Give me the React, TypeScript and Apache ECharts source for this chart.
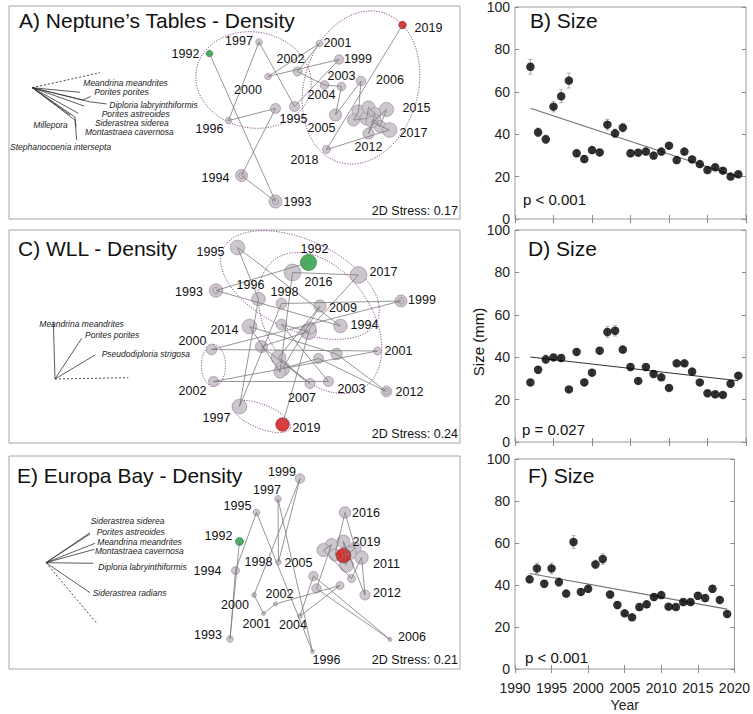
import React, { useEffect, useRef } from "react";
import * as echarts from "echarts";

// ---------- shared ----------
const years = [1992, 1993, 1994, 1995, 1996, 1997, 1998, 1999, 2000, 2001, 2002, 2003, 2004, 2005, 2006, 2007, 2008, 2009, 2010, 2011, 2012, 2013, 2014, 2015, 2016, 2017, 2018, 2019];

// ---------- size panels (B, D, F) ----------
const sizeB = [71.8, 40.9, 37.6, 53, 57.9, 65.3, 31, 28.3, 32.5, 31.4, 44.5, 40.4, 43.1, 31, 31.3, 31.8, 29.9, 31.8, 34.6, 27.8, 31.8, 28.1, 25.9, 23.1, 24.4, 22.8, 20, 21.1];
const errB = [3.5, 2, 2, 2.5, 3, 3.5, 1.5, 1.5, 1.5, 1.5, 2.5, 2, 2, 1.5, 1.5, 1.5, 1.5, 1.5, 1.5, 1.5, 1.5, 1.5, 1.5, 1, 1, 1, 1, 1];
const trendB = [[1992, 52.2], [2019, 19.8]];
const sizeD = [28.1, 34.1, 39, 39.9, 39.6, 24.8, 42.5, 28.1, 32.7, 43.1, 51.9, 52.5, 43.6, 35.4, 28.8, 35.4, 32.1, 30.5, 25.5, 37.1, 37.1, 33.2, 28.1, 23, 22.5, 22.2, 27.5, 31.3];
const errD = [1.5, 1.5, 2, 1.5, 1.5, 1, 1.5, 1.5, 1.5, 1.5, 2.5, 2.5, 1.5, 1.5, 1, 1, 1, 1, 1, 1, 1, 1, 1, 1, 1, 1, 1, 1];
const trendD = [[1992, 40.1], [2019, 28.9]];
const sizeF = [42.7, 47.9, 40.6, 47.9, 41.4, 35.9, 60.5, 36.7, 38.2, 49.8, 52.4, 35.5, 30.5, 26.5, 24.6, 29.5, 30.8, 34.3, 35.2, 29.7, 29.5, 31.9, 31.9, 34.9, 33.8, 38.2, 32.9, 26.2];
const errF = [1.5, 2.5, 1.5, 2.5, 2, 1.5, 3, 1.5, 1.5, 2, 2.5, 1.5, 1.5, 1, 1, 1.5, 1.5, 1.5, 1.5, 1, 1, 1, 1, 1.5, 1.5, 1.5, 1.5, 1];
const trendF = [[1992, 45.5], [2019, 28.5]];
const pTexts = ["p < 0.001", "p = 0.027", "p < 0.001"];
const sizeTitles = ["B) Size", "D) Size", "F) Size"];
const xTicks = { min: 1990, max: 2020, step: 5 };
const yTicks = { min: 0, max: 100, step: 20 };

// ---------- nMDS panels (A, C, E) ----------
const nmdsA = [[-0.25, 0.59], [0.41, -0.89], [0.07, -0.63], [0.41, 0.04], [-0.06, -0.08], [0.245, 0.705], [0.6, 0.06], [1.045, 0.53], [0.335, 0.36], [0.85, 0.69], [0.63, 0.41], [0.9, 0.275], [1.07, 0.26], [1.01, -0.025], [1.265, 0.315], [1.24, 0.01], [1.19, -0.075], [1.32, -0.06], [1.34, 0.05], [1.405, -0.01], [1.34, -0.21], [1.405, -0.075], [1.455, -0.14], [1.52, 0.03], [1.375, -0.095], [1.55, -0.175], [0.92, -0.37], [1.68, 0.875]];
const densityA = [3.3, 6.5, 6, 5, 3.3, 3.3, 5, 4.7, 3.3, 3.3, 4.5, 4.3, 4.3, 6, 4.7, 6.5, 6, 6.5, 6.5, 6, 5.5, 6, 6, 7, 6, 7.3, 4, 3.7];
const ringYearsA = [1993, 1994];
const ellipsesA = [[0.19, 0.325, 0.58, 0.48, -10], [1.265, 0.25, 0.78, 0.57, 74]];
const vecOriginA = [-2.022, 0.248];
const vecEndsA = [[-1.545, 0.202], [-1.518, 0.125], [-1.452, 0.108], [-1.505, 0.065], [-1.562, -0.008], [-1.595, -0.045], [-1.645, -0.025], [-1.595, -0.075]];
const vecLeadersA = [[[-1.452, 0.108], [-1.278, 0.085]], [[-1.595, -0.045], [-1.585, -0.145]], [[-1.595, -0.075], [-1.578, -0.275]], [[-1.518, 0.125], [-1.44, 0.16]]];
const vecDashA = [-1.345, 0.398];
const speciesA = ["Meandrina meandrites", "Porites porites", "Diploria labryinthiformis", "Porites astreoides", "Siderastrea siderea", "Montastraea cavernosa", "Millepora", "Stephanocoenia intersepta"];
const speciesPosA = [[-1.512, 0.298], [-1.402, 0.208], [-1.252, 0.075], [-1.328, -0.015], [-1.395, -0.105], [-1.495, -0.198], [-2.012, -0.125], [-2.245, -0.348]];
const labelOffA: Record<number, number[]> = { 1992: [-24, 0], 1993: [22, 0], 1994: [-26, 2], 1995: [18, 10], 1996: [-19, 8], 1997: [-20, -1], 1999: [19, -1], 2000: [-20, 13], 2001: [18, -1], 2002: [-7, -13], 2003: [17, -9], 2004: [-20, 8], 2005: [-14, 13], 2006: [29, -1], 2012: [0, 13], 2015: [30, -2], 2017: [24, 3], 2018: [-22, 10], 2019: [26, 3] };

const nmdsC = [[0.74, 0.74], [-0.185, 0.46], [1.06, 0.105], [0.03, 0.89], [0.24, 0.375], [0.05, -0.7], [0.47, 0.33], [1.665, 0.355], [-0.23, -0.13], [1.43, -0.145], [-0.21, -0.45], [0.94, -0.45], [0.47, 0.12], [0.74, 0.05], [0.27, -0.1], [0.755, -0.47], [0.44, -0.21], [0.855, 0.305], [0.48, -0.32], [0.84, -0.22], [1.52, -0.55], [1.02, -0.175], [0.15, 0.1], [0.455, -0.355], [0.58, 0.64], [1.24, 0.615], [0.755, 0.085], [0.48, -0.88]];
const densityC = [8, 6.7, 6.7, 7.3, 6.7, 7.3, 5.3, 6, 5.3, 4, 5, 5, 5.3, 8, 6, 5, 7.3, 6, 7.3, 5, 5.3, 5.7, 7.3, 6, 8.3, 8.3, 6, 6.7];
const ringYearsC = [1993, 1999, 2012];
const ellipsesC = [[0.655, 0.515, 0.85, 0.45, -25], [0.855, 0.135, 0.78, 0.52, -55], [-0.21, -0.29, 0.21, 0.12, 90], [0.27, -0.8, 0.31, 0.12, -22]];
const vecOriginC = [-1.795, -0.425];
const vecEndsC = [[-1.812, 0.148], [-1.528, -0.018], [-1.395, -0.185]];
const vecLeadersC: number[][][] = [];
const vecDashC = [-1.062, -0.412];
const speciesC = ["Meandrina meandrites", "Porites porites", "Pseudodiploria strigosa"];
const speciesPosC = [[-1.952, 0.125], [-1.495, 0.015], [-1.328, -0.175]];
const labelOffC: Record<number, number[]> = { 1992: [6, -14], 1993: [-27, 1], 1994: [24, -1], 1995: [-27, 4], 1996: [-8, -14], 1997: [-23, 11], 1998: [3, -12], 1999: [21, -1], 2000: [-19, -9], 2001: [21, 0], 2002: [-21, 9], 2003: [23, 7], 2007: [-8, 14], 2009: [23, 2], 2012: [23, 0], 2014: [-25, 3], 2016: [26, 9], 2017: [25, -3], 2019: [24, 3] };

const nmdsE = [[0.05, 0.21], [-0.045, -0.765], [0.01, -0.08], [0.22, 0.5], [0.78, -0.89], [0.435, 0.635], [0.44, 0.005], [0.655, 0.84], [0.195, -0.325], [0.29, -0.51], [0.41, -0.415], [1.055, -0.23], [0.655, -0.535], [0.79, -0.135], [1.555, -0.77], [0.82, -0.26], [0.97, 0.18], [0.89, 0.125], [1.17, -0.16], [1.27, 0.05], [1.305, -0.325], [1.09, 0.21], [1.12, -0.025], [1.005, 0.075], [1.105, 0.5], [1.205, 0.145], [1.155, 0.095], [1.09, 0.07]];
const densityE = [4, 3.3, 4, 3.3, 2, 3.3, 2.7, 4.7, 2.3, 2, 2, 4, 2.3, 4.7, 2, 4.7, 6, 6.5, 4, 6.7, 5, 6.5, 7, 6, 5.7, 6, 6.5, 7.3];
const ringYearsE: number[] = [];
const ellipsesE: number[][] = [];
const vecOriginE = [-1.885, -0.002];
const vecEndsE = [[-1.445, 0.298], [-1.445, 0.285], [-1.395, 0.192], [-1.402, 0.132], [-1.412, -0.008], [-1.445, -0.302]];
const vecLeadersE: number[][][] = [];
const vecDashE = [-1.378, -0.608];
const speciesE = ["Siderastrea siderea", "Porites astreoides", "Meandrina meandrites", "Montastraea cavernosa", "Diploria labryinthiformis", "Siderastrea radians"];
const speciesPosE = [[-1.438, 0.415], [-1.378, 0.308], [-1.372, 0.208], [-1.395, 0.118], [-1.362, -0.042], [-1.418, -0.302]];
const labelOffE: Record<number, number[]> = { 1992: [-21, -6], 1993: [-22, -4], 1994: [-28, 0], 1995: [-19, -7], 1996: [14, 8], 1997: [-11, -9], 1998: [-20, 0], 1999: [-18, -7], 2000: [-19, 10], 2001: [-7, 10], 2002: [4, -10], 2004: [-7, 9], 2005: [-15, -13], 2006: [22, -3], 2011: [25, 6], 2012: [22, -2], 2016: [21, 0], 2019: [23, -14] };

const nmdsTitles = ["A) Neptune\u2019s Tables - Density", "C) WLL - Density", "E) Europa Bay - Density"];
const stressTexts = ["2D Stress: 0.17", "2D Stress: 0.24", "2D Stress: 0.21"];

const FONT = '"Liberation Sans", Arial, Helvetica, sans-serif';

function buildOption() {
  const leftBoxes = [
    { left: 9, top: 6, width: 451, height: 213 },
    { left: 9, top: 230, width: 451, height: 213 },
    { left: 9, top: 456, width: 451, height: 213 },
  ];
  const rightBoxes = [
    { left: 515, top: 7, width: 231, height: 212 },
    { left: 515, top: 230, width: 231, height: 212 },
    { left: 515, top: 459, width: 231, height: 210 },
  ];
  const grid: any[] = [];
  leftBoxes.forEach((b) => grid.push({ ...b, show: true, borderColor: "#a6a6a6", borderWidth: 1, backgroundColor: "#fff" }));
  rightBoxes.forEach((b) => grid.push({ ...b, show: true, borderColor: "#9a9a9a", borderWidth: 1, backgroundColor: "#fff" }));

  const xAxis: any[] = [];
  const yAxis: any[] = [];
  for (let g = 0; g < 3; g++) {
    xAxis.push({ type: "value", gridIndex: g, min: -2.255, max: 2.255, show: false });
    yAxis.push({ type: "value", gridIndex: g, min: -1.065, max: 1.065, show: false });
  }
  const tick = { show: true, inside: true, length: 4, lineStyle: { color: "#8a8a8a", width: 1 } };
  for (let k = 0; k < 3; k++) {
    const g = 3 + k;
    xAxis.push({
      type: "value", gridIndex: g, min: xTicks.min, max: xTicks.max, interval: xTicks.step,
      axisLine: { show: false }, splitLine: { show: false }, axisTick: tick,
      axisLabel: { show: k === 2, fontSize: 14, color: "#222", margin: 12, fontFamily: FONT, formatter: (v: number) => String(v) },
      name: k === 2 ? "Year" : "", nameLocation: "middle", nameGap: 29,
      nameTextStyle: { fontSize: 14, color: "#222", fontFamily: FONT },
    });
    yAxis.push({
      type: "value", gridIndex: g, min: yTicks.min, max: yTicks.max, interval: yTicks.step,
      axisLine: { show: false }, splitLine: { show: false }, axisTick: tick,
      axisLabel: { fontSize: 14, color: "#222", margin: 5, fontFamily: FONT },
    });
  }
  for (let k = 0; k < 3; k++) {
    const g = 3 + k;
    xAxis.push({
      type: "value", gridIndex: g, position: "top", min: xTicks.min, max: xTicks.max, interval: xTicks.step,
      axisLine: { show: false }, splitLine: { show: false }, axisTick: tick, axisLabel: { show: false },
    });
    yAxis.push({
      type: "value", gridIndex: g, position: "right", min: yTicks.min, max: yTicks.max, interval: yTicks.step,
      axisLine: { show: false }, splitLine: { show: false }, axisTick: tick, axisLabel: { show: false },
    });
  }

  const series: any[] = [];

  const ellipseRender = (params: any, api: any) => {
    const cx = api.value(0), cy = api.value(1), a = api.value(2), b = api.value(3);
    const th = (api.value(4) * Math.PI) / 180;
    const pts: number[][] = [];
    for (let i = 0; i <= 90; i++) {
      const t = (i / 90) * Math.PI * 2;
      const lx = a * Math.cos(t), ly = b * Math.sin(t);
      pts.push(api.coord([cx + lx * Math.cos(th) - ly * Math.sin(th), cy + lx * Math.sin(th) + ly * Math.cos(th)]));
    }
    return { type: "polyline", shape: { points: pts }, style: { stroke: "#8c4f8e", lineWidth: 1, lineDash: [1.2, 1.4], fill: null } };
  };

  const panels = [
    { nmds: nmdsA, dens: densityA, rings: ringYearsA, ell: ellipsesA, o: vecOriginA, ends: vecEndsA, leaders: vecLeadersA, dash: vecDashA, sp: speciesA, spPos: speciesPosA, off: labelOffA },
    { nmds: nmdsC, dens: densityC, rings: ringYearsC, ell: ellipsesC, o: vecOriginC, ends: vecEndsC, leaders: vecLeadersC, dash: vecDashC, sp: speciesC, spPos: speciesPosC, off: labelOffC },
    { nmds: nmdsE, dens: densityE, rings: ringYearsE, ell: ellipsesE, o: vecOriginE, ends: vecEndsE, leaders: vecLeadersE, dash: vecDashE, sp: speciesE, spPos: speciesPosE, off: labelOffE },
  ];

  panels.forEach((p, g) => {
    const ax = { xAxisIndex: g, yAxisIndex: g };
    const last = years.length - 1;
    if (p.ell.length) {
      series.push({ type: "custom", ...ax, data: p.ell, renderItem: ellipseRender, encode: { x: 0, y: 1 }, z: 1, silent: true, clip: false });
    }
    series.push({
      type: "scatter", ...ax, z: 2, silent: true,
      data: years.map((yr, i) => [p.nmds[i][0], p.nmds[i][1], p.dens[i]]).filter((_, i) => i !== 0 && i !== last),
      symbolSize: (v: number[]) => v[2] * 2,
      itemStyle: { color: "#c8c4c9", borderColor: "#a68aa8", borderWidth: 0.8, opacity: 0.95 },
    });
    if (p.rings.length) {
      series.push({
        type: "scatter", ...ax, z: 2, silent: true,
        data: p.rings.map((yr) => { const i = years.indexOf(yr); return [p.nmds[i][0], p.nmds[i][1]]; }),
        symbolSize: 6,
        itemStyle: { color: "rgba(0,0,0,0)", borderColor: "#8d6f90", borderWidth: 0.8 },
      });
    }
    series.push({
      type: "scatter", ...ax, z: 3, silent: true,
      data: [
        { value: [p.nmds[0][0], p.nmds[0][1], p.dens[0]], itemStyle: { color: "#1e9a3c", borderColor: "#2a7a3a" } },
        { value: [p.nmds[last][0], p.nmds[last][1], p.dens[last]], itemStyle: { color: "#d40a0a", borderColor: "#8a1a1a" } },
      ],
      symbolSize: (v: number[]) => v[2] * 2,
      itemStyle: { borderWidth: 0.8 },
    });
    series.push({
      type: "line", ...ax, z: 4, silent: true, symbol: "none",
      data: p.nmds.map((c) => [c[0], c[1]]),
      lineStyle: { color: "#7b7b7b", width: 0.8 },
    });
    // year labels (custom text)
    series.push({
      type: "custom", ...ax, z: 6, silent: true, clip: false,
      data: years
        .map((yr, i) => ({ yr, i }))
        .filter((d) => p.off[d.yr])
        .map((d) => [p.nmds[d.i][0], p.nmds[d.i][1], p.off[d.yr][0], p.off[d.yr][1], d.yr]),
      encode: { x: 0, y: 1 },
      renderItem: (params: any, api: any) => {
        const c = api.coord([api.value(0), api.value(1)]);
        return {
          type: "text", x: c[0] + api.value(2), y: c[1] + api.value(3),
          style: { text: String(api.value(4)), fill: "#111", font: `12.5px ${FONT}`, textAlign: "center", textVerticalAlign: "middle" },
        };
      },
    });
    series.push({
      type: "lines", coordinateSystem: "cartesian2d", ...ax, z: 3, silent: true,
      data: p.ends.map((e) => ({ coords: [p.o, e] })).concat(p.leaders.map((l) => ({ coords: l }))),
      lineStyle: { color: "#333", width: 0.8, opacity: 1, curveness: 0 },
    });
    series.push({
      type: "lines", coordinateSystem: "cartesian2d", ...ax, z: 3, silent: true,
      data: [{ coords: [p.o, p.dash] }],
      lineStyle: { color: "#333", width: 0.9, opacity: 1, type: [2, 2], curveness: 0 },
    });
    // species labels (custom text)
    series.push({
      type: "custom", ...ax, z: 6, silent: true, clip: false,
      data: p.sp.map((s, i) => [p.spPos[i][0], p.spPos[i][1], i]),
      encode: { x: 0, y: 1 },
      renderItem: (params: any, api: any) => {
        const c = api.coord([api.value(0), api.value(1)]);
        return {
          type: "text", x: c[0], y: c[1],
          style: { text: p.sp[api.value(2)], fill: "#222", font: `italic 8.5px ${FONT}`, textAlign: "left", textVerticalAlign: "middle" },
        };
      },
    });
  });

  const sizes = [
    { v: sizeB, e: errB, t: trendB, lc: "#707070" },
    { v: sizeD, e: errD, t: trendD, lc: "#333" },
    { v: sizeF, e: errF, t: trendF, lc: "#707070" },
  ];
  sizes.forEach((s, k) => {
    const ax = { xAxisIndex: 3 + k, yAxisIndex: 3 + k };
    series.push({
      type: "custom", ...ax, z: 1, silent: true,
      data: years.map((yr, i) => [yr, s.v[i] - s.e[i], s.v[i] + s.e[i]]),
      encode: { x: 0, y: [1, 2] },
      renderItem: (params: any, api: any) => {
        const x = api.value(0);
        const hi = api.coord([x, api.value(2)]);
        const lo = api.coord([x, api.value(1)]);
        const st = { stroke: "#999", lineWidth: 0.8 };
        return {
          type: "group",
          children: [
            { type: "line", shape: { x1: hi[0], y1: hi[1], x2: lo[0], y2: lo[1] }, style: st },
            { type: "line", shape: { x1: hi[0] - 2, y1: hi[1], x2: hi[0] + 2, y2: hi[1] }, style: st },
            { type: "line", shape: { x1: lo[0] - 2, y1: lo[1], x2: lo[0] + 2, y2: lo[1] }, style: st },
          ],
        };
      },
    });
    series.push({
      type: "line", ...ax, z: 2, silent: true, symbol: "none",
      data: s.t, lineStyle: { color: s.lc, width: 1.1 },
    });
    series.push({
      type: "scatter", ...ax, z: 3, silent: true, symbolSize: 8.5,
      data: years.map((yr, i) => [yr, s.v[i]]),
      itemStyle: { color: "#000" },
    });
  });

  const txt = (text: string, x: number, y: number, size: number, align = "left", color = "#111", extra: any = {}) => ({
    type: "text", x, y, z: 100, silent: true, ...extra,
    style: { text, fill: color, font: `${size}px ${FONT}`, textAlign: align, textVerticalAlign: "middle" },
  });

  const graphic: any[] = [
    txt(nmdsTitles[0], 19, 20, 21),
    txt(nmdsTitles[1], 18, 248, 21),
    txt(nmdsTitles[2], 17, 475, 21),
    txt(stressTexts[0], 458, 211, 12.5, "right", "#111"),
    txt(stressTexts[1], 458, 434, 12.5, "right", "#111"),
    txt(stressTexts[2], 458, 660, 12.5, "right", "#111"),
    txt(sizeTitles[0], 530, 20, 21),
    txt(sizeTitles[1], 528, 248, 21),
    txt(sizeTitles[2], 528, 475, 21),
    txt(pTexts[0], 523, 199, 15, "left", "#111"),
    txt(pTexts[1], 522, 429, 15, "left", "#111"),
    txt(pTexts[2], 525, 657, 15, "left", "#111"),
    txt("Size (mm)", 478, 342, 15, "center", "#111", { rotation: Math.PI / 2 }),
  ];

  return {
    animation: false,
    backgroundColor: "#fff",
    textStyle: { fontFamily: FONT },
    grid, xAxis, yAxis, series, graphic,
  };
}

export default function App() {
  const ref = useRef<HTMLDivElement>(null);
  useEffect(() => {
    if (!ref.current) return;
    const chart = echarts.init(ref.current, undefined, { renderer: "svg" });
    chart.setOption(buildOption() as any);
    return () => chart.dispose();
  }, []);
  return <div ref={ref} style={{ position: "fixed", left: 0, top: 0, width: 753, height: 714, background: "#fff" }} />;
}
